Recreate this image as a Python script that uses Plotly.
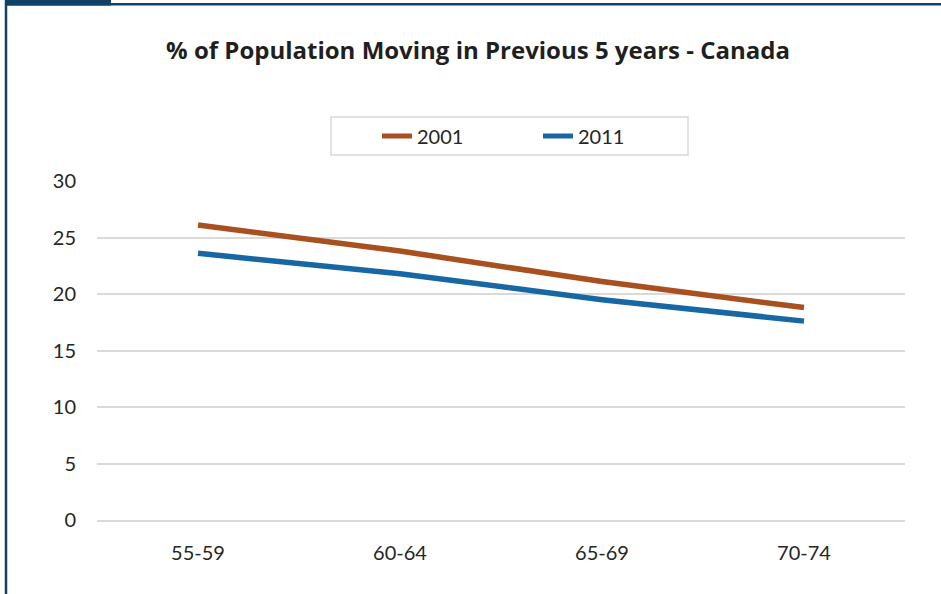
import plotly.graph_objects as go

categories = ["55-59", "60-64", "65-69", "70-74"]
values_2001 = [26.1, 23.8, 21.1, 18.8]
values_2011 = [23.6, 21.8, 19.5, 17.6]
y_ticks = [0, 5, 10, 15, 20, 25, 30]

W, H = 941, 594
L, R, T, B = 97, 36, 181, 74
pw, ph = W - L - R, H - T - B

def px(x):
    return (x - L) / pw

def py(y):
    return (H - B - y) / ph

FONT = "Lato"
BORDER = "#0F4266"

fig = go.Figure()
fig.add_trace(go.Scatter(x=categories, y=values_2001, mode="lines", name="2001",
                         line=dict(color="#A8501F", width=5.5)))
fig.add_trace(go.Scatter(x=categories, y=values_2011, mode="lines", name="2011",
                         line=dict(color="#1767A4", width=5.5)))

shapes = [
    # legend box
    dict(type="rect", xref="paper", yref="paper", x0=px(331), x1=px(688), y0=py(155), y1=py(117),
         line=dict(color="#D9D9D9", width=1.5), fillcolor="rgba(0,0,0,0)"),
    # left border
    dict(type="line", xref="paper", yref="paper", x0=px(6), x1=px(6), y0=py(594), y1=py(0),
         line=dict(color=BORDER, width=2.5)),
    # top border
    dict(type="line", xref="paper", yref="paper", x0=px(5), x1=px(941), y0=py(4.2), y1=py(4.2),
         line=dict(color=BORDER, width=2.5)),
    # top-left tab
    dict(type="rect", xref="paper", yref="paper", x0=px(5), x1=px(111), y0=py(5.5), y1=py(0),
         line=dict(width=0), fillcolor=BORDER),
]

fig.update_layout(
    width=W, height=H,
    margin=dict(l=L, r=R, t=T, b=B),
    paper_bgcolor="white", plot_bgcolor="white",
    font=dict(family=FONT, size=20, color="#262626"),
    title=dict(text="<b>% of Population Moving in Previous 5 years - Canada</b>",
               x=0.508, xanchor="center", y=1 - 51 / H, yanchor="middle",
               font=dict(family="Open Sans", size=24, color="#1f1f1f")),
    showlegend=True,
    legend=dict(orientation="h", x=px(377), xanchor="left", y=py(136), yanchor="middle",
                bgcolor="rgba(0,0,0,0)", borderwidth=0, entrywidth=116, entrywidthmode="pixels",
                font=dict(family=FONT, size=20, color="#262626"), itemsizing="constant"),
    shapes=shapes,
    xaxis=dict(range=[-0.5, 3.5], showgrid=False, showline=True, linecolor="#D9D9D9", linewidth=1.5,
               ticks="", ticklabelstandoff=14, tickfont=dict(size=20)),
    yaxis=dict(range=[0, 30], tickvals=y_ticks, showgrid=True, gridcolor="#D9D9D9", gridwidth=1.5,
               zeroline=False, showline=False, ticks="", ticklabelstandoff=20,
               tickfont=dict(size=20)),
)

fig.write_html("out.html")
